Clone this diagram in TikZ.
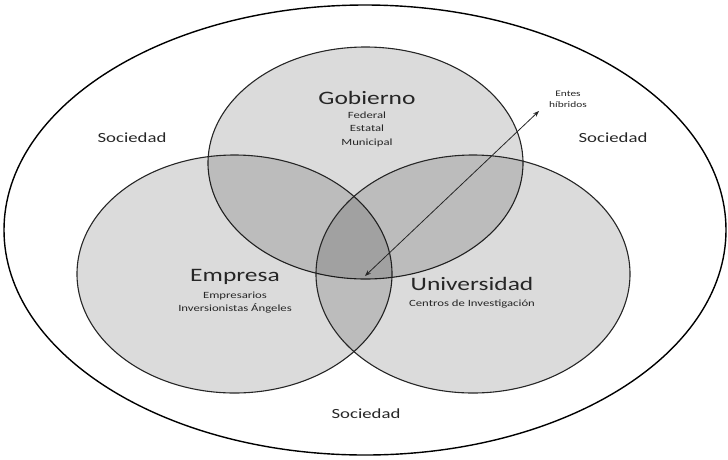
\documentclass[tikz,border=0pt]{standalone}
\usepackage{fontspec}
\setmainfont{Carlito}[FakeStretch=1.34]
\usetikzlibrary{arrows.meta}
\definecolor{txt}{HTML}{262626}
\tikzset{
  set/.style={draw=black!85, line width=1.1pt, fill=black, fill opacity=0.14},
  bigname/.style={text=txt, font=\fontsize{19}{22}\selectfont, inner sep=0pt, anchor=center},
  smalllist/.style={text=txt, font=\fontsize{9.5}{13.5}\selectfont, align=center, inner sep=0pt, anchor=north},
  soc/.style={text=txt, font=\fontsize{14}{16}\selectfont, inner sep=0pt},
}
\begin{document}
\begin{tikzpicture}[x=1pt,y=-1pt]
\useasboundingbox (0,0) rectangle (728,459);
\draw[black, line width=1.4pt] (365,230) ellipse [x radius=361, y radius=225];
\draw[set] (365.5,163) ellipse [x radius=157.5, y radius=116];
\draw[set] (234.5,274) ellipse [x radius=157.5, y radius=119];
\draw[set] (473,274) ellipse [x radius=157, y radius=119];

\node[bigname] (gob) at (367,98) {Gobierno};
\node[smalllist] (gobl) at (367,111.5) {Federal\\Estatal\\Municipal};
\node[bigname] (emp) at (235,277) {Empresa};
\node[smalllist] (empl) at (235,291.5) {Empresarios\\Inversionistas Ángeles};
\node[bigname] (uni) at (472,284) {Universidad};
\node[smalllist] (unil) at (472,299.5) {Centros de Investigación};

\node[soc] (s1) at (132,138) {Sociedad};
\node[soc] (s2) at (613,138) {Sociedad};
\node[soc] (s3) at (366,414) {Sociedad};

\node[text=txt, font=\fontsize{8.5}{11}\selectfont, align=center, inner sep=0pt] (entes) at (568,99) {Entes\\híbridos};
\coordinate (a1) at (365,276);
\coordinate (a2) at (539,111);
\draw[black!85, line width=0.8pt, {Stealth[length=6pt,width=4.5pt]}-{Stealth[length=6pt,width=4.5pt]}] (a1) -- (a2);
\end{tikzpicture}
\end{document}
